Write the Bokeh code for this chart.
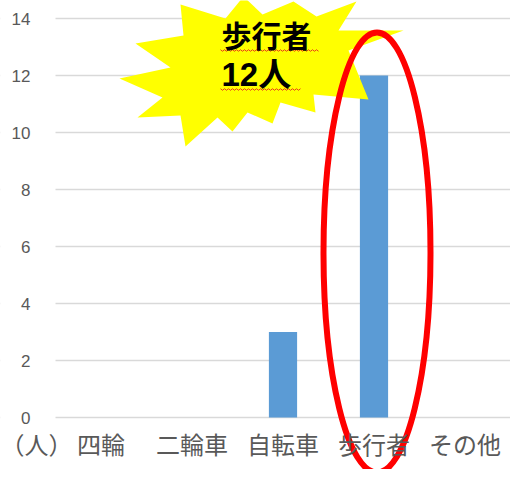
import numpy as np
from bokeh.plotting import figure
from bokeh.models import Range1d, FixedTicker, Label, BoxAnnotation
from bokeh.embed import file_html
from bokeh.resources import INLINE

# ---- data ----
categories = ["四輪", "二輪車", "自転車", "歩行者", "その他"]
counts = [0, 0, 3, 12, 0]
y_ticks = [0, 2, 4, 6, 8, 10, 12, 14]
unit_label = "（人）"
callout_title = "歩行者"
callout_value = "12人"

BAR = "#5B9BD5"
GRID = "#D9D9D9"
TXT = "#595959"

W, H = 510, 469
LEFT = 55                 # pixel column where the category slots start
Y0_PX, PX_PER_UNIT = 417, 28.5   # pixel row of value 0, pixels per unit
CAT_PX = (W - LEFT) / len(categories)

# category slots on a numeric axis (slot i centred at i + 0.5)
cat_pos = [i + 0.5 for i in range(len(categories))]

def dx(px):
    return (np.asarray(px, dtype=float) - LEFT) / CAT_PX

def dy(py):
    return (Y0_PX - np.asarray(py, dtype=float)) / PX_PER_UNIT

unit_pos = float(dx(28))

p = figure(width=W, height=H,
           x_range=Range1d(-LEFT / CAT_PX, len(categories)),
           y_range=Range1d(-(H - Y0_PX) / PX_PER_UNIT, Y0_PX / PX_PER_UNIT),
           output_backend="svg", toolbar_location=None,
           min_border_left=0, min_border_right=0,
           min_border_top=0, min_border_bottom=0)
p.outline_line_color = None
p.background_fill_color = "white"
p.border_fill_color = "white"

# keep the gridlines to the category area only
p.add_layout(BoxAnnotation(right=0, fill_color="white", fill_alpha=1.0,
                           line_color=None, level="underlay"))

p.vbar(x=cat_pos, top=counts, width=0.31, fill_color=BAR, line_color=None)

# starburst callout (outline in pixels)
star = [(243, -4), (262, 14), (293, 1), (316, 16), (356, 1), (338, 30), (403, 30),
        (348, 50), (368, 99), (313, 94), (315, 112), (280, 102), (272, 123),
        (247, 112), (232, 131), (217, 117), (185, 146), (180, 115), (137, 117),
        (162, 97), (119, 78), (170, 67), (135, 43), (183, 35), (180, 4), (225, 18)]
p.patch(list(dx([a for a, b in star])), list(dy([b for a, b in star])),
        fill_color="#FFFF00", line_color=None)

p.add_layout(Label(x=float(dx(221)), y=float(dy(33)), text=callout_title,
                   text_font="Noto Sans CJK JP", text_font_size="30px",
                   text_font_style="bold", text_color="black",
                   text_baseline="middle", text_align="left"))
p.add_layout(Label(x=float(dx(221)), y=float(dy(73.5)), text=callout_value,
                   text_font="Liberation Sans, Noto Sans CJK JP", text_font_size="33px",
                   text_font_style="bold", text_color="black",
                   text_baseline="middle", text_align="left"))

# wavy underlines
for x0, x1, yy in [(220, 318, 50), (220, 300, 89)]:
    xs = np.arange(x0, x1 + 1, 2.0)
    ys = yy + np.where(np.arange(len(xs)) % 2 == 0, -0.8, 0.8)
    p.line(dx(xs), dy(ys), line_color="#E8401C", line_width=1)

# red ellipse highlight
p.ellipse(x=[float(dx(376.5))], y=[float(dy(252))], width=107 / CAT_PX, height=440 / PX_PER_UNIT,
          fill_color=None, line_color="#FF0000", line_width=6)

# x axis: category names plus the unit label
labels = {unit_pos: unit_label}
labels.update({pos: c for pos, c in zip(cat_pos, categories)})
xax = p.xaxis[0]
xax.ticker = FixedTicker(ticks=[unit_pos] + cat_pos)
xax.major_label_overrides = labels

# axes styling
p.yaxis.ticker = FixedTicker(ticks=y_ticks)
p.ygrid.ticker = FixedTicker(ticks=y_ticks)
p.ygrid.grid_line_color = GRID
p.ygrid.grid_line_width = 1.3
p.xgrid.visible = False
for ax in (xax, p.yaxis[0]):
    ax.axis_line_color = None
    ax.major_tick_line_color = None
    ax.minor_tick_line_color = None
    ax.major_label_text_color = TXT
p.yaxis.major_label_text_font = "Liberation Sans"
p.yaxis.major_label_text_font_size = "17px"
p.yaxis.major_label_standoff = -36
xax.major_label_text_font = "Noto Sans CJK JP"
xax.major_label_text_font_size = "24px"
xax.major_label_standoff = -50

open("out.html", "w").write(file_html(p, INLINE))
